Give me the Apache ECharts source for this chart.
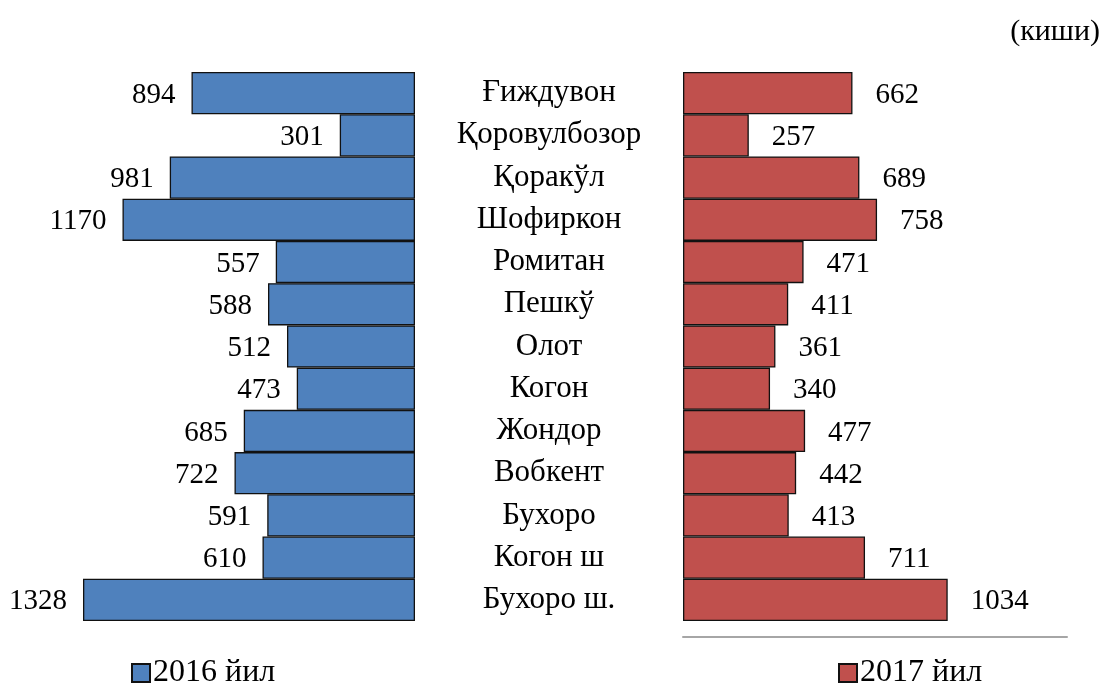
<!DOCTYPE html>
<html>
<head>
<meta charset="utf-8">
<script src="https://cdn.jsdelivr.net/npm/echarts@6/dist/echarts.min.js"></script>
<style>
html, body { margin: 0; padding: 0; background: #fff; }
#main { width: 1107px; height: 685px; }
</style>
</head>
<body>
<div id="main"></div>
<script>
// туманлар
var districts = ['Ғиждувон', 'Қоровулбозор', 'Қоракўл', 'Шофиркон', 'Ромитан', 'Пешкў', 'Олот',
    'Когон', 'Жондор', 'Вобкент', 'Бухоро', 'Когон ш', 'Бухоро ш.'];
var values2016 = [894, 301, 981, 1170, 557, 588, 512, 473, 685, 722, 591, 610, 1328];
var values2017 = [662, 257, 689, 758, 471, 411, 361, 340, 477, 442, 413, 711, 1034];
var seriesNames = ['2016 йил', '2017 йил'];
var unitText = '(киши)';

var fontFam = "'Liberation Serif', 'Times New Roman', serif";
var chart = echarts.init(document.getElementById('main'));

function legendAt(name, x) {
    return {
        data: [name],
        left: x,
        top: 652,
        icon: 'rect',
        itemWidth: 18,
        itemHeight: 18,
        itemGap: 0,
        textStyle: { fontFamily: fontFam, fontSize: 32, color: '#000', padding: [0, 0, 0, -2] }
    };
}

var option = {
    backgroundColor: '#fff',
    animation: false,
    title: {
        text: unitText,
        right: 2,
        top: 12,
        textStyle: { fontFamily: fontFam, fontSize: 30, fontWeight: 'normal', color: '#000' }
    },
    legend: [legendAt(seriesNames[0], 126), legendAt(seriesNames[1], 833)],
    grid: [
        { left: 65, width: 350, top: 72, height: 549 },
        { left: 683, width: 384, top: 72, height: 549 }
    ],
    xAxis: [
        {
            gridIndex: 0, type: 'value', inverse: true, min: 0, max: 1400,
            show: false
        },
        {
            gridIndex: 1, type: 'value', min: 0, max: 1500,
            offset: 16,
            axisLine: { show: true, lineStyle: { color: '#a6a6a6', width: 2 } },
            axisTick: { show: false },
            axisLabel: { show: false },
            splitLine: { show: false }
        }
    ],
    yAxis: [
        {
            gridIndex: 0, type: 'category', data: districts, inverse: true,
            show: false
        },
        {
            gridIndex: 1, type: 'category', data: districts, inverse: true,
            axisLine: { show: false },
            axisTick: { show: false },
            axisLabel: {
                margin: 134,
                align: 'center',
                fontFamily: fontFam,
                fontSize: 31,
                color: '#000'
            }
        }
    ],
    series: [
        {
            name: seriesNames[0],
            type: 'bar',
            xAxisIndex: 0,
            yAxisIndex: 0,
            data: values2016,
            barCategoryGap: 0,
            itemStyle: { color: '#4F81BD', borderColor: '#111', borderWidth: 1.3 },
            label: {
                show: true,
                position: 'left',
                distance: 16,
                fontFamily: fontFam,
                fontSize: 29,
                color: '#000',
                offset: [0, 2]
            }
        },
        {
            name: seriesNames[1],
            type: 'bar',
            xAxisIndex: 1,
            yAxisIndex: 1,
            data: values2017,
            barCategoryGap: 0,
            itemStyle: { color: '#C0504D', borderColor: '#111', borderWidth: 1.3 },
            label: {
                show: true,
                position: 'right',
                distance: 23,
                fontFamily: fontFam,
                fontSize: 29,
                color: '#000',
                offset: [0, 2]
            }
        }
    ]
};

chart.setOption(option);
</script>
</body>
</html>
